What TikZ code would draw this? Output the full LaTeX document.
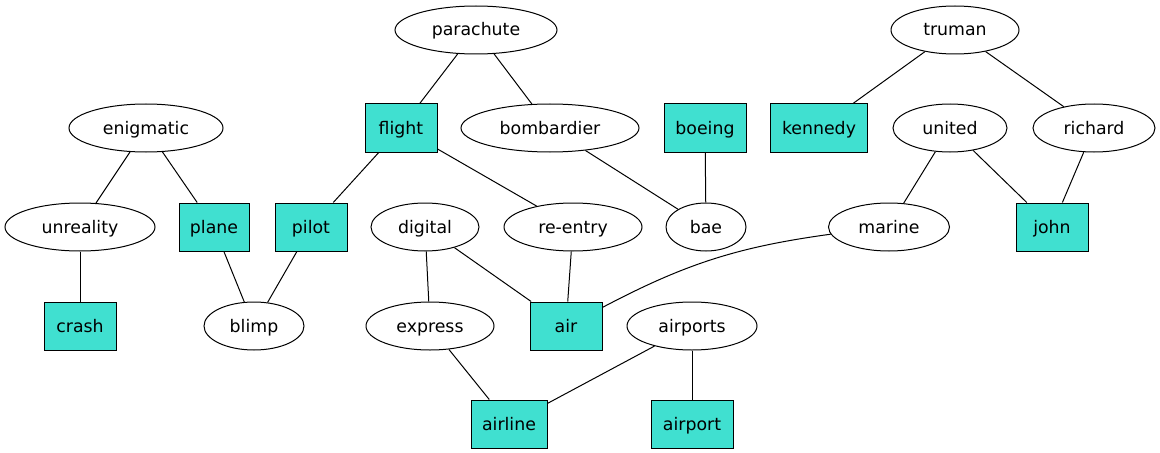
\documentclass[tikz,border=0pt]{standalone}
\usepackage{fontspec}
\setmainfont{DejaVu Sans}
\usetikzlibrary{shapes.geometric}
\definecolor{turq}{HTML}{40E0D0}
\tikzset{
  base/.style={draw=black, line width=0.75pt, inner sep=0pt, minimum height=36pt, text height=10pt, text depth=1pt, font=\fontsize{13pt}{15pt}\selectfont, text=black},
  oval/.style={base, ellipse, minimum width=#1*0.75pt},
  sq/.style={base, rectangle, fill=turq, minimum width=#1*0.75pt},
  link/.style={draw=black, line width=0.75pt}
}
\begin{document}
\begin{tikzpicture}[x=0.75pt, y=-0.75pt]
\useasboundingbox (0,0) rectangle (1160,453);
\node[oval=162] (parachute) at (476,30) {parachute};
\node[oval=128] (truman) at (955,30) {truman};
\node[oval=154] (enigmatic) at (146,128) {enigmatic};
\node[sq=72] (flight) at (401,128) {flight};
\node[oval=178] (bombardier) at (550,128) {bombardier};
\node[sq=82] (boeing) at (705,128) {boeing};
\node[sq=97] (kennedy) at (819,128) {kennedy};
\node[oval=114] (united) at (950,128) {united};
\node[oval=122] (richard) at (1094,128) {richard};
\node[oval=150] (unreality) at (80,227) {unreality};
\node[sq=70] (plane) at (214,227) {plane};
\node[sq=72] (pilot) at (311,227) {pilot};
\node[oval=108] (digital) at (425,227) {digital};
\node[oval=138] (reentry) at (573,227) {re-entry};
\node[oval=80] (bae) at (706,227) {bae};
\node[oval=121] (marine) at (889,227) {marine};
\node[sq=72] (john) at (1052,227) {john};
\node[sq=72] (crash) at (80,326) {crash};
\node[oval=100] (blimp) at (254,326) {blimp};
\node[oval=128] (express) at (430,326) {express};
\node[sq=72] (air) at (566,326) {air};
\node[oval=130] (airports) at (692,326) {airports};
\node[sq=76] (airline) at (509,424) {airline};
\node[sq=82] (airport) at (692,424) {airport};
\draw[link] (parachute) -- (flight);
\draw[link] (parachute) -- (bombardier);
\draw[link] (truman) -- (kennedy);
\draw[link] (truman) -- (richard);
\draw[link] (enigmatic) -- (unreality);
\draw[link] (enigmatic) -- (plane);
\draw[link] (flight) -- (pilot);
\draw[link] (flight) -- (reentry);
\draw[link] (bombardier) -- (bae);
\draw[link] (boeing) -- (bae);
\draw[link] (united) -- (marine);
\draw[link] (united) -- (john);
\draw[link] (richard) -- (john);
\draw[link] (unreality) -- (crash);
\draw[link] (plane) -- (blimp);
\draw[link] (pilot) -- (blimp);
\draw[link] (digital) -- (express);
\draw[link] (digital) -- (air);
\draw[link] (reentry) -- (air);
\draw[link] (marine) to[bend right=10] (air);
\draw[link] (express) -- (airline);
\draw[link] (airports) -- (airline);
\draw[link] (airports) -- (airport);
\end{tikzpicture}
\end{document}
